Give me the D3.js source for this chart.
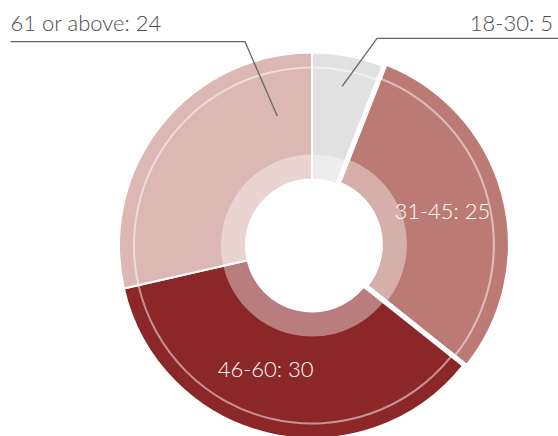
<!DOCTYPE html>
<html>
<head>
<meta charset="utf-8">
<script src="https://cdn.jsdelivr.net/npm/d3@7"></script>
<style>
  body { margin: 0; background: #fff; }
  text { font-family: Lato, "Open Sans", sans-serif; font-weight: 300; }
</style>
</head>
<body>
<div id="chart"></div>
<script>
// data
var categories = ["18-30", "31-45", "46-60", "61 or above"];
var values = [5, 25, 30, 24];
var colours = ["#e1e1e1", "#bb7b74", "#8b2729", "#dbb8b4"];

var width = 558, height = 436;
var cx = 312, cy = 245.5;
var rHole = 66, rInner = 91, rRing = 178, rOuter = 193;
var explode = [0, 4, 0, 0]; // 31-45 is pulled out a little

// where the labels go (angle shift in degrees from the slice middle)
var labelSpec = [
  { inside: false, r: 162, da: 0, elbow: [377, 38.3], end: width, textX: 553, anchor: "end" },
  { inside: true, r: 131, da: 0 },
  { inside: true, r: 132, da: 7.7 },
  { inside: false, r: 134, da: 36.4, elbow: [245, 41.7], end: 10.5, textX: 10.5, anchor: "start" }
];

var svg = d3.select("#chart")
  .append("svg")
  .attr("width", width)
  .attr("height", height);

var pie = d3.pie().sort(null).value(function(d) { return d; });
var arcs = pie(values);

var outerArc = d3.arc().innerRadius(rHole).outerRadius(rOuter);
var innerArc = d3.arc().innerRadius(rHole).outerRadius(rInner);
var ringArc = d3.arc().innerRadius(rRing - 1).outerRadius(rRing + 1);

function polar(r, a) {
  return [r * Math.sin(a), -r * Math.cos(a)];
}

var g = svg.append("g").attr("transform", "translate(" + cx + "," + cy + ")");

var slice = g.selectAll(".slice")
  .data(arcs)
  .enter()
  .append("g")
  .attr("class", "slice")
  .attr("transform", function(d, i) {
    var mid = (d.startAngle + d.endAngle) / 2;
    var p = polar(explode[i], mid);
    return "translate(" + p[0] + "," + p[1] + ")";
  });

slice.append("path")
  .attr("d", outerArc)
  .style("fill", function(d, i) { return colours[i]; })
  .style("stroke", "#fff")
  .style("stroke-width", 2);

slice.append("path")
  .attr("d", innerArc)
  .style("fill", "#fff")
  .style("fill-opacity", 0.4);

slice.append("path")
  .attr("d", ringArc)
  .style("fill", "#fff")
  .style("fill-opacity", 0.5);

// labels
arcs.forEach(function(d, i) {
  var s = labelSpec[i];
  var mid = (d.startAngle + d.endAngle) / 2 + s.da * Math.PI / 180;
  var off = polar(explode[i], (d.startAngle + d.endAngle) / 2);
  var p = polar(s.r, mid);
  var x = cx + p[0] + off[0], y = cy + p[1] + off[1];
  var txt = categories[i] + ": " + values[i];

  if (s.inside) {
    svg.append("text")
      .attr("x", x)
      .attr("y", y + 8)
      .attr("text-anchor", "middle")
      .style("fill", "#fff")
      .style("font-size", "22px")
      .text(txt);
  } else {
    svg.append("polyline")
      .attr("points", [[x, y], s.elbow, [s.end, s.elbow[1]]].map(function(q) { return q.join(","); }).join(" "))
      .style("fill", "none")
      .style("stroke", "#666")
      .style("stroke-width", 1.3);
    svg.append("text")
      .attr("x", s.textX)
      .attr("y", 31)
      .attr("text-anchor", s.anchor)
      .style("fill", "#4d4d4d")
      .style("font-size", "22px")
      .text(txt);
  }
});
</script>
</body>
</html>
